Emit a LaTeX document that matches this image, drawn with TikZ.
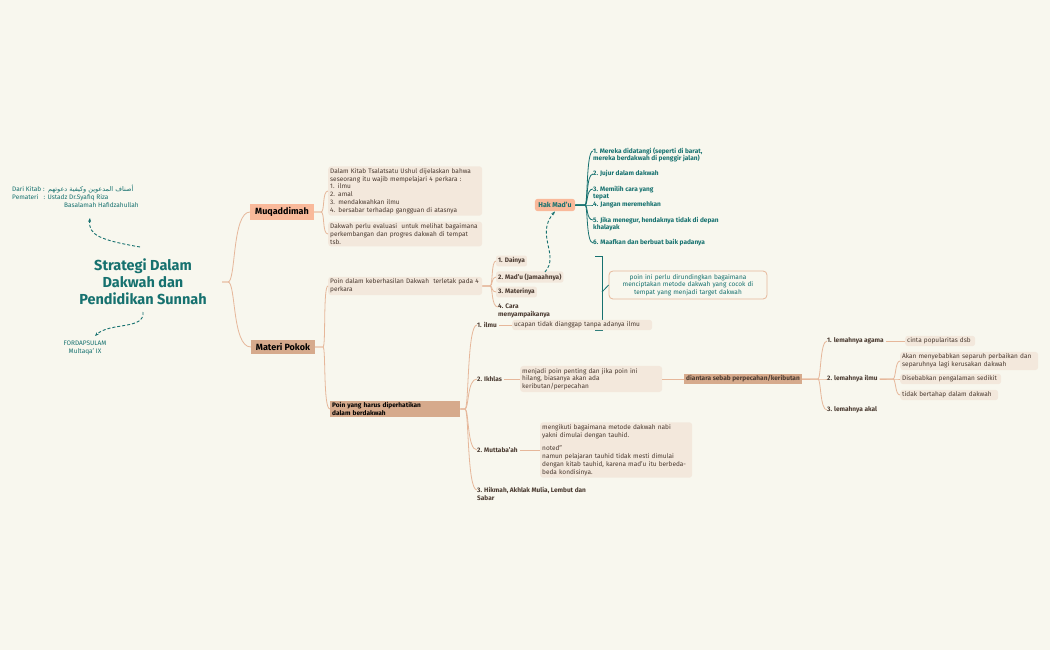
\documentclass[tikz,border=0pt]{standalone}
\usepackage{fontspec}
\setmainfont{Fira Sans}
\newfontfamily\arab{DejaVu Sans}[Script=Arabic]
\usetikzlibrary{arrows.meta}
\definecolor{bg}{HTML}{F8F7EE}
\definecolor{teal}{HTML}{16716F}
\definecolor{peach}{HTML}{F9B99A}
\definecolor{tan}{HTML}{D6AA8C}
\definecolor{note}{HTML}{F3E8DC}
\definecolor{ln}{HTML}{E6B79A}
\definecolor{dk}{HTML}{4A3A30}
\begin{document}
\TeXXeTstate=1
\hyphenpenalty=10000 \exhyphenpenalty=10000
\begin{tikzpicture}[x=1pt,y=-1pt,
  every node/.style={inner sep=2pt,font=\fontsize{6.5}{7.8}\selectfont,text=dk},
  main/.style={fill=peach,font=\fontsize{9}{10}\selectfont\bfseries,text=black,inner xsep=5pt,inner ysep=3pt},
  main2/.style={main,fill=tan},
  box/.style={fill=note,rounded corners=3pt,anchor=west,align=left,text width=#1},
  box/.default=150pt,
  lbl/.style={anchor=west,align=left,font=\fontsize{6.5}{7.8}\selectfont\bfseries},
  tl/.style={lbl,text=teal},
  con/.style={draw=ln,line width=0.8pt},
  tcon/.style={draw=teal,line width=0.8pt},
  dsh/.style={draw=teal,line width=0.9pt,dash pattern=on 3pt off 2pt,-{Stealth[length=4pt]}}]
\fill[bg] (0,0) rectangle (1050,650);
\useasboundingbox (0,0) rectangle (1050,650);
% title
\node[font=\fontsize{14.5}{17}\selectfont\bfseries,text=teal,align=center] (title) at (143,282) {Strategi Dalam\\Dakwah dan\\Pendidikan Sunnah};
\node[anchor=north west,font=\fontsize{6.5}{7.8}\selectfont,text=teal,align=left] (kitab) at (10,183)
  {Dari Kitab :\ \ {\arab\beginR أصناف المدعوين وكيفية دعوتهم\endR}\\Pemateri\ \ \ : Ustadz Dr.Syafiq Riza\\\hspace*{52pt}Basalamah Hafidzahullah};
\node[font=\fontsize{6.5}{7.8}\selectfont,text=teal,align=center] (ford) at (85,348) {FORDAPSULAM\\Multaqa' IX};
\coordinate (t1) at (140,247); \coordinate (t2) at (143,312);
\draw[dsh] (t1) .. controls (100,240) and (88,235) .. (90,218);
\draw[dsh] (t2) .. controls (145,330) and (110,322) .. (95,336);
% main branches
\node[main] (muq) at (282,212) {Muqaddimah};
\node[main2] (mat) at (283,347) {Materi Pokok};
\coordinate (tr) at (222,282);
\draw[con] (tr) -- (228,282) .. controls (236,282) and (232,212) .. (muq.west);
\draw[con] (tr) -- (228,282) .. controls (236,282) and (232,347) .. (mat.west);
% muqaddimah notes
\node[box] (m1) at (328,191) {Dalam Kitab Tsalatsatu Ushul dijelaskan bahwa seseorang itu wajib mempelajari 4 perkara :\\1. ilmu\\2. amal\\3. mendakwahkan ilmu\\4. bersabar terhadap gangguan di atasnya};
\node[box] (m2) at (328,234) {Dakwah perlu evaluasi\ \ untuk melihat bagaimana perkembangan dan progres dakwah di tempat tsb.};
\draw[con] (muq.east) -- (321,212) .. controls (325,212) and (322,191) .. (m1.west);
\draw[con] (muq.east) -- (321,212) .. controls (325,212) and (322,234) .. (m2.west);
% materi children
\node[box] (p1) at (328,286) {Poin dalam keberhasilan Dakwah\ \ terletak pada 4 perkara};
\node[main2,anchor=west,font=\fontsize{6.5}{7.8}\selectfont\bfseries,align=left,text width=126pt,inner xsep=2pt,inner ysep=1.5pt] (p2) at (330,409) {Poin yang harus diperhatikan\\dalam berdakwah};
\draw[con] (mat.east) -- (323,347) .. controls (326,347) and (323,286) .. (p1.west);
\draw[con] (mat.east) -- (323,347) .. controls (326,347) and (323,409) .. (p2.west);
% four items
\node[lbl,fill=note,rounded corners=2pt] (d1) at (496,261) {1. Dainya};
\node[lbl,fill=note,rounded corners=2pt] (d2) at (496,277) {2. Mad'u (Jamaahnya)};
\node[lbl,fill=note,rounded corners=2pt] (d3) at (496,292) {3. Materinya};
\node[lbl] (d4) at (496,311) {4. Cara\\menyampaikanya};
\foreach \n/\y in {d1/261,d2/277,d3/292}
  \draw[con] (p1.east) -- (490,286) .. controls (493,286) and (491,\y) .. (\n.west);
\draw[con] (p1.east) -- (490,286) .. controls (493,286) and (491,307) .. (498,307);
% Hak Mad'u
\node[fill=peach,rounded corners=3pt,font=\fontsize{7}{8}\selectfont\bfseries,text=teal,inner sep=3.5pt] (hak) at (555,205) {Hak Mad'u};
\draw[dsh] (545,272) .. controls (560,255) and (535,235) .. (hak.south);
\node[tl] (h1) at (591,155) {1. Mereka didatangi (seperti di barat,\\mereka berdakwah di penggir jalan)};
\node[tl] (h2) at (591,174) {2. Jujur dalam dakwah};
\node[tl] (h3) at (591,193) {3. Memilih cara yang\\tepat};
\node[tl] (h4) at (591,205) {4. Jangan meremehkan};
\node[tl] (h5) at (591,224) {5. Jika menegur, hendaknya tidak di depan\\khalayak};
\node[tl] (h6) at (591,243) {6. Maafkan dan berbuat baik padanya};
\foreach \n/\y in {h1/151,h2/174,h3/189,h4/205,h5/220,h6/243}
  \draw[tcon] (hak.east) -- (585,205) .. controls (588,205) and (586,\y) .. (593,\y);
% bracket
\node[draw=ln,line width=0.8pt,rounded corners=4pt,fill=bg,text=teal,align=center,text width=152pt,inner sep=3pt] (pn) at (688,285) {poin ini perlu dirundingkan bagaimana\\menciptakan metode dakwah yang cocok di\\tempat yang menjadi target dakwah};
\coordinate (b1) at (595,256); \coordinate (b2) at (595,330);
\draw[tcon] (b1) -- (602,256) -- (602,330) -- (b2);
\draw[tcon] (602,292) -- (pn.west);
% poin yang harus children
\node[lbl] (q1) at (475,325) {1. ilmu};
\node[lbl] (q2) at (475,379) {2. Ikhlas};
\node[lbl] (q3) at (475,450) {2. Muttaba'ah};
\node[lbl] (q4) at (475,494) {3. Hikmah, Akhlak Mulia, Lembut dan\\Sabar};
\foreach \y in {325,379,450,490}
  \draw[con] (p2.east) -- (465,409) .. controls (469,409) and (467,\y) .. (477,\y);
\node[box=136pt] (u1) at (512,325) {ucapan tidak dianggap tanpa adanya ilmu};
\draw[con] (q1.east) -- (u1.west);
\node[box=138pt] (u2) at (520,379) {menjadi poin penting dan jika poin ini\\hilang, biasanya akan ada\\keributan/perpecahan};
\draw[con] (q2.east) -- (u2.west);
\node[box=148pt] (u3) at (540,450) {mengikuti bagaimana metode dakwah nabi\\yakni dimulai dengan tauhid.\\[6pt]noted"\\namun pelajaran tauhid tidak mesti dimulai\\dengan kitab tauhid, karena mad'u itu berbeda-\\beda kondisinya.};
\draw[con] (q3.east) -- (u3.west);
\node[fill=tan,font=\fontsize{6.5}{7.8}\selectfont\bfseries,inner xsep=2pt,inner ysep=1.5pt] (dia) at (743,379) {diantara sebab perpecahan/keributan};
\draw[con] (u2.east) -- (dia.west);
\node[lbl] (l1) at (825,341) {1. lemahnya agama};
\node[lbl] (l2) at (825,379) {2. lemahnya ilmu};
\node[lbl] (l3) at (825,410) {3. lemahnya akal};
\foreach \y in {341,379,410}
  \draw[con] (dia.east) -- (818,379) .. controls (821,379) and (820,\y) .. (827,\y);
\node[box=66pt] (a1) at (905,341) {cinta popularitas dsb};
\draw[con] (l1.east) -- (a1.west);
\node[box=134pt] (a2) at (900,361) {Akan menyebabkan separuh perbaikan dan\\separuhnya lagi kerusakan dakwah};
\node[box=97pt] (a3) at (900,379) {Disebabkan pengalaman sedikit};
\node[box=94pt] (a4) at (900,395) {tidak bertahap dalam dakwah};
\foreach \y in {361,379,395}
  \draw[con] (l2.east) -- (893,379) .. controls (896,379) and (895,\y) .. (900,\y);
\end{tikzpicture}
\end{document}
